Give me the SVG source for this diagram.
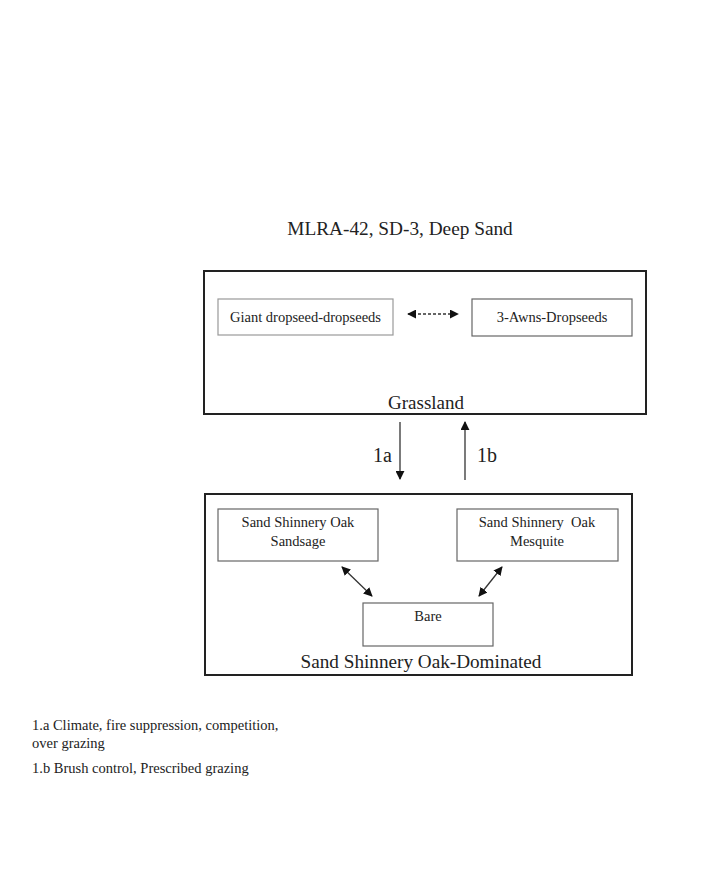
<svg xmlns="http://www.w3.org/2000/svg" width="713" height="876" viewBox="0 0 713 876">
<style>
text{font-family:"Liberation Serif","Tinos","DejaVu Serif",serif;fill:#222}
.frame{fill:none;stroke:#222;stroke-width:2}
.box{fill:#fff;stroke:#666;stroke-width:1.2}
.lbox{fill:#fff;stroke:#999;stroke-width:1.2}
.conn{stroke:#333;stroke-width:1.3;fill:none}
.note{font-size:14.5px}
.nd{font-size:14.5px}
</style>
<defs>
<marker id="ah" viewBox="0 0 10 10" refX="9" refY="5" markerWidth="9" markerHeight="9" orient="auto-start-reverse" markerUnits="userSpaceOnUse">
<path d="M0,0 L10,5 L0,10 z" fill="#111"/>
</marker>
</defs>
<rect width="713" height="876" fill="#fff"/>
<text x="400" y="235" font-size="19.3" text-anchor="middle">MLRA-42, SD-3, Deep Sand</text>

<g id="grassland">
<rect class="frame" x="204" y="271" width="442" height="143"/>
<text x="426" y="409" font-size="19" text-anchor="middle">Grassland</text>
</g>
<g id="giant-dropseed">
<rect class="lbox" x="218" y="299" width="175" height="36"/>
<text class="nd" x="305.5" y="322" text-anchor="middle">Giant dropseed-dropseeds</text>
</g>
<g id="three-awns">
<rect class="box" x="472" y="299" width="160" height="37"/>
<text class="nd" x="552" y="322" text-anchor="middle">3-Awns-Dropseeds</text>
</g>

<g id="shinnery">
<rect class="frame" x="205" y="494" width="427" height="181"/>
<text x="421" y="668" font-size="19.2" text-anchor="middle">Sand Shinnery Oak-Dominated</text>
</g>
<g id="sandsage">
<rect class="box" x="218" y="509" width="160" height="52"/>
<text class="nd" x="298" y="527" text-anchor="middle">Sand Shinnery Oak</text>
<text class="nd" x="298" y="546" text-anchor="middle">Sandsage</text>
</g>
<g id="mesquite">
<rect class="box" x="457" y="509" width="161" height="52"/>
<text class="nd" x="537" y="527" text-anchor="middle" xml:space="preserve">Sand Shinnery  Oak</text>
<text class="nd" x="537" y="546" text-anchor="middle">Mesquite</text>
</g>
<g id="bare">
<rect class="box" x="363" y="603" width="130" height="43"/>
<text class="nd" x="428" y="621" text-anchor="middle">Bare</text>
</g>

<g id="connectors">
<line class="conn" x1="408" y1="314" x2="458" y2="314" stroke-dasharray="3,2" marker-start="url(#ah)" marker-end="url(#ah)"/>
<line class="conn" x1="400" y1="422" x2="400" y2="479" marker-end="url(#ah)" stroke="#777"/>
<line class="conn" x1="465" y1="480" x2="465" y2="422" marker-end="url(#ah)" stroke="#777"/>
<line class="conn" x1="342" y1="567" x2="372" y2="596" marker-start="url(#ah)" marker-end="url(#ah)" stroke-width="1.8"/>
<line class="conn" x1="502" y1="567" x2="479" y2="596" marker-start="url(#ah)" marker-end="url(#ah)" stroke-width="1.8"/>
<text x="373" y="462" font-size="20">1a</text>
<text x="477" y="462" font-size="20">1b</text>
</g>

<g id="notes">
<text class="note" x="32" y="730">1.a Climate, fire suppression, competition,</text>
<text class="note" x="32" y="748">over grazing</text>
<text class="note" x="32" y="773">1.b Brush control, Prescribed grazing</text>
</g>
</svg>
